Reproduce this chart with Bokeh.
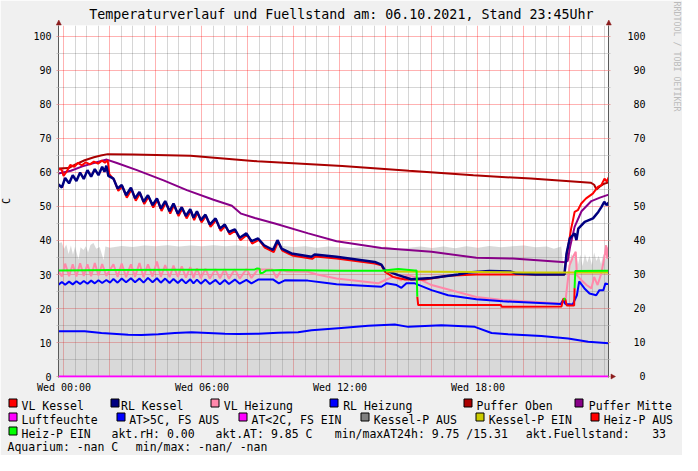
import math
from bokeh.plotting import figure
from bokeh.models import Range1d, LinearAxis, FixedTicker, Grid, GridBox
from bokeh.core.properties import value
from bokeh.embed import file_html
from bokeh.resources import INLINE

NAN = float("nan")

# ---------------- data (hours since Wed 00:00, value in C) ----------------
VL_KESSEL = [(-0.24, 61.0), (-0.10, 60.8), (-0.02, 59.0), (0.12, 60.3), (0.27, 62.2), (0.45, 61.7),
             (0.60, 62.8), (0.78, 62.1), (0.95, 63.0), (1.13, 62.4), (1.30, 63.2), (1.48, 62.6),
             (1.65, 63.5), (1.78, 62.9), (1.90, 63.6), (1.97, 59.5), (2.18, 57.8), (2.36, 54.6),
             (2.54, 55.9), (2.73, 52.6), (2.94, 55.1), (3.12, 51.7), (3.31, 53.9), (3.49, 50.7),
             (3.68, 52.9), (3.88, 49.7), (4.07, 52.0), (4.24, 48.7), (4.43, 51.2), (4.62, 47.9),
             (4.79, 50.5), (4.98, 47.2), (5.15, 49.4), (5.33, 46.5), (5.52, 48.8), (5.66, 46.0),
             (5.81, 48.2), (5.98, 45.3), (6.18, 47.2), (6.37, 44.0), (6.62, 46.1), (6.81, 42.8),
             (7.02, 44.3), (7.20, 41.8), (7.46, 42.9), (7.67, 40.1), (7.96, 41.7), (8.18, 39.1),
             (8.47, 40.2), (8.73, 37.9), (9.12, 36.6), (9.31, 39.6), (9.49, 37.0), (9.92, 35.6),
             (10.79, 34.6), (10.93, 35.3), (11.85, 34.7), (13.51, 33.2), (13.80, 32.7), (13.95, 30.8),
             (14.30, 29.3), (14.82, 28.5), (15.69, 28.5), (16.70, 29.6), (17.93, 30.0), (21.76, 30.0),
             (21.83, 34.7), (21.98, 40.6), (22.05, 43.5), (22.13, 46.0), (22.20, 48.4), (22.34, 48.9),
             (22.49, 50.9), (22.70, 52.4), (22.99, 53.8), (23.21, 55.8), (23.36, 56.3), (23.50, 58.2),
             (23.60, 57.3), (23.68, 58.6)]

RL_KESSEL = [(-0.24, 56.5), (-0.09, 55.6), (0.05, 58.4), (0.22, 56.8), (0.38, 59.2), (0.54, 57.5),
             (0.70, 60.0), (0.86, 58.1), (1.02, 60.7), (1.18, 58.8), (1.34, 61.0), (1.50, 59.2),
             (1.66, 61.7), (1.76, 60.2), (1.84, 62.0), (1.93, 59.0), (2.15, 58.2), (2.33, 55.3),
             (2.51, 56.3), (2.70, 53.3), (2.91, 55.5), (3.09, 52.4), (3.28, 54.3), (3.46, 51.4),
             (3.65, 53.3), (3.85, 50.4), (4.04, 52.4), (4.21, 49.4), (4.40, 51.6), (4.59, 48.6),
             (4.76, 50.9), (4.95, 47.9), (5.12, 49.8), (5.30, 47.2), (5.49, 49.2), (5.63, 46.7),
             (5.78, 48.6), (5.95, 46.0), (6.15, 47.6), (6.34, 44.7), (6.59, 46.5), (6.78, 43.5),
             (6.99, 44.7), (7.17, 42.5), (7.43, 43.3), (7.64, 40.8), (7.93, 42.1), (8.15, 39.8),
             (8.44, 40.6), (8.70, 38.6), (9.09, 37.2), (9.28, 40.1), (9.46, 37.6), (9.89, 36.2),
             (10.76, 35.2), (10.90, 35.9), (11.85, 35.2), (13.51, 33.7), (13.80, 32.9), (13.95, 31.3),
             (14.53, 29.8), (15.10, 28.6), (15.98, 29.0), (17.14, 30.0), (17.57, 30.6), (18.50, 31.0),
             (19.40, 30.9), (19.66, 30.3), (20.50, 30.0), (21.76, 30.0), (21.85, 36.2), (21.99, 40.6),
             (22.20, 42.1), (22.28, 40.1), (22.36, 43.5), (22.64, 45.5), (23.00, 46.5), (23.23, 48.4),
             (23.37, 49.9), (23.49, 51.4), (23.59, 50.4), (23.68, 51.2)]

VL_HEIZUNG = [(-0.24, 31.0), (-0.09, 29.4), (0.05, 33.2), (0.22, 29.5), (0.38, 33.0), (0.54, 29.4),
              (0.70, 33.3), (0.86, 29.6), (1.02, 33.0), (1.18, 29.5), (1.34, 33.4), (1.50, 29.7),
              (1.66, 33.1), (1.84, 29.6), (2.15, 33.0), (2.33, 29.3), (2.51, 33.2), (2.70, 29.2),
              (2.91, 33.0), (3.09, 29.3), (3.28, 33.4), (3.46, 29.2), (3.65, 33.0), (3.85, 29.4),
              (4.04, 33.8), (4.21, 29.3), (4.40, 32.8), (4.59, 29.2), (4.76, 32.6), (4.95, 29.3),
              (5.12, 32.4), (5.30, 29.1), (5.49, 32.2), (5.63, 29.0), (5.78, 31.8), (5.95, 28.9),
              (6.15, 31.7), (6.34, 28.8), (6.59, 31.6), (6.78, 28.9), (6.99, 31.6), (7.17, 28.8),
              (7.43, 31.5), (7.64, 28.8), (7.93, 31.6), (8.15, 29.0), (8.44, 31.6), (8.60, 31.5),
              (9.05, 31.5), (9.24, 29.0), (9.46, 31.4), (9.70, 30.9), (10.60, 30.8), (11.00, 30.0),
              (11.85, 28.8), (13.66, 27.4), (13.95, 28.3), (14.30, 29.3), (14.67, 28.3), (14.90, 29.8),
              (15.25, 29.3), (15.98, 26.9), (17.93, 23.4), (19.08, 22.5), (21.60, 21.5), (21.80, 22.0),
              (21.98, 32.7), (22.13, 35.2), (22.25, 36.7), (22.30, 29.8), (22.50, 28.3), (22.72, 26.9),
              (22.93, 25.9), (23.05, 29.3), (23.20, 26.9), (23.36, 30.3), (23.50, 35.2), (23.57, 38.6),
              (23.62, 34.7), (23.68, 38.1)]

RL_HEIZUNG = [(-0.24, 27.0), (-0.09, 27.8), (0.05, 27.0), (0.22, 27.9), (0.38, 27.1), (0.54, 28.0),
              (0.70, 27.2), (0.86, 28.1), (1.02, 27.3), (1.18, 28.2), (1.34, 27.4), (1.50, 28.3),
              (1.66, 27.5), (1.84, 28.4), (2.00, 27.6), (2.15, 28.7), (2.33, 27.6), (2.51, 28.8),
              (2.70, 27.7), (2.91, 28.9), (3.09, 27.7), (3.28, 28.8), (3.46, 27.6), (3.65, 29.0),
              (3.85, 27.7), (4.04, 28.9), (4.21, 27.6), (4.40, 28.8), (4.59, 27.5), (4.76, 28.7),
              (4.95, 27.5), (5.12, 28.6), (5.30, 27.4), (5.49, 28.6), (5.63, 27.4), (5.78, 28.5),
              (5.95, 27.3), (6.15, 28.5), (6.34, 27.2), (6.59, 28.4), (6.78, 27.1), (6.99, 28.4),
              (7.17, 27.2), (7.43, 28.5), (7.64, 27.3), (7.93, 28.4), (8.15, 27.4), (8.44, 28.5),
              (9.10, 28.5), (9.34, 27.4), (9.60, 28.3), (10.60, 28.2), (11.34, 27.6), (11.85, 27.1),
              (13.80, 26.4), (14.02, 27.4), (14.46, 26.9), (14.67, 26.1), (14.89, 27.4), (15.25, 27.4),
              (15.98, 25.4), (16.70, 23.9), (17.93, 22.7), (19.08, 22.1), (21.60, 21.3), (21.70, 22.5),
              (21.80, 21.3), (22.12, 21.2), (22.30, 23.9), (22.40, 28.0), (22.63, 25.9), (22.85, 24.4),
              (23.14, 23.9), (23.28, 25.4), (23.45, 25.4), (23.54, 27.4), (23.68, 27.1)]

PUFFER_OBEN = [(-0.24, 61.2), (0.20, 61.3), (0.50, 62.4), (0.90, 63.6), (1.30, 64.5), (1.60, 65.0),
               (1.90, 65.4), (3.00, 65.3), (5.50, 64.9), (8.40, 63.3), (12.10, 61.9), (15.00, 60.5),
               (17.80, 59.2), (20.30, 58.2), (22.90, 57.0), (23.05, 56.4), (23.15, 55.0), (23.30, 55.9),
               (23.45, 56.6), (23.68, 57.1)]

PUFFER_MITTE = [(-0.24, 59.7), (0.30, 60.5), (0.80, 61.8), (1.30, 62.8), (1.86, 63.8), (2.30, 62.8),
                (3.17, 60.7), (4.33, 57.7), (5.34, 54.8), (6.50, 52.0), (7.30, 50.2), (7.70, 47.9),
                (8.30, 46.6), (9.17, 45.0), (10.62, 42.1), (11.85, 39.8), (13.80, 37.8), (15.98, 36.7),
                (17.93, 34.9), (19.51, 34.7), (21.80, 33.6), (21.90, 34.0), (22.00, 38.0), (22.20, 44.0),
                (22.50, 48.6), (22.93, 51.6), (23.30, 52.6), (23.68, 53.5)]

AT_LINE = [(-0.24, 13.3), (0.90, 13.3), (1.63, 12.8), (2.79, 12.3), (3.37, 12.2), (4.10, 12.4),
           (4.82, 12.8), (5.54, 13.0), (7.00, 12.6), (7.57, 12.5), (8.44, 12.6), (9.31, 12.9),
           (10.18, 13.0), (10.76, 13.6), (11.92, 14.2), (13.23, 14.9), (14.38, 15.3), (14.97, 14.6),
           (16.41, 15.1), (17.86, 14.6), (18.59, 12.8), (19.31, 12.4), (20.76, 11.9), (21.92, 11.2),
           (22.79, 10.2), (23.68, 9.8)]

LUFTFEUCHTE = [(-0.24, 0.0), (23.68, 0.0)]

KESSEL_P_AUS = [(-0.24, 39.2), (-0.10, 39.5), (0.00, 37.5), (0.10, 38.8), (0.20, 36.0), (0.30, 38.5),
                (0.39, 35.8), (0.48, 38.2), (0.63, 34.4), (0.72, 38.0), (0.85, 37.2), (0.95, 38.3),
                (1.05, 36.5), (1.15, 38.7), (1.28, 39.3), (1.40, 37.6), (1.55, 38.1), (1.72, 34.3),
                (1.80, 38.2), (2.00, 37.9), (2.50, 38.4), (3.00, 38.1), (3.50, 38.5), (4.00, 38.3),
                (4.50, 38.6), (5.00, 38.2), (5.50, 38.5), (6.00, 38.3), (6.50, 38.6), (7.00, 38.3),
                (7.50, 38.5), (8.00, 38.2), (8.50, 38.4), (9.00, 38.2), (9.50, 38.4), (10.00, 38.1),
                (10.50, 38.3), (11.00, 37.9), (11.50, 38.2), (12.00, 38.0), (12.50, 37.8), (13.00, 38.1),
                (13.50, 37.7), (14.00, 38.2), (14.50, 37.5), (15.00, 37.9), (15.50, 38.2), (16.00, 37.8),
                (16.50, 38.2), (17.00, 37.7), (17.50, 38.3), (18.00, 37.9), (18.50, 38.4), (19.00, 38.0),
                (19.50, 38.3), (20.00, 38.5), (20.50, 38.0), (21.00, 38.2), (21.30, 37.6), (21.62, 38.2),
                (21.70, 33.0), (21.80, 30.5), (21.95, 31.0), (22.05, 36.0), (22.15, 34.5), (22.25, 36.8),
                (22.35, 33.0), (22.45, 35.8), (22.55, 32.5), (22.65, 36.0), (22.75, 33.5), (22.85, 35.5),
                (22.95, 32.8), (23.05, 36.5), (23.15, 34.0), (23.25, 35.5), (23.35, 33.0), (23.45, 36.0),
                (23.55, 34.5), (23.68, 36.5)]

KESSEL_P_EIN = [(14.00, 30.9), (16.00, 30.8), (18.00, 30.7), (20.00, 30.6), (22.00, 30.6), (23.68, 30.6)]

HEIZ_P_AUS = [(15.36, 23.5), (15.40, 21.0), (19.00, 21.0), (19.03, 20.5), (21.63, 20.6), (21.71, 22.9),
              (21.80, 22.6), (21.86, 20.9), (22.18, 20.9), (22.20, 26.0)]

HEIZ_P_EIN = [(-0.24, 31.2), (2.00, 31.3), (5.00, 31.4), (8.30, 31.5), (8.40, 31.8), (8.50, 31.7),
              (8.53, 30.4), (8.65, 30.5), (8.80, 31.2), (9.50, 31.3), (12.00, 31.1), (13.80, 31.1),
              (14.53, 31.6), (15.25, 31.2), (15.33, 31.2), (15.36, 23.5), (NAN, NAN),
              (21.73, 22.4), (21.79, 23.1), (NAN, NAN),
              (22.20, 26.0), (22.23, 31.0), (23.68, 31.1)]

# legend entries and text
LEGEND_ROWS = [
    [("VL Kessel", "#FF0000"), ("RL Kessel", "#000080"), ("VL Heizung", "#FF88AA"),
     ("RL Heizung", "#0000FF"), ("Puffer Oben", "#AA0000"), ("Puffer Mitte", "#880088")],
    [("Luftfeuchte", "#FF00FF"), ("AT>5C, FS AUS", "#0000FF"), ("AT<2C, FS EIN", "#FF00FF"),
     ("Kessel-P AUS", "#808080"), ("Kessel-P EIN", "#CCCC00"), ("Heiz-P AUS", "#FF0000")],
    [("Heiz-P EIN", "#00FF00")],
]
INFO_ROW3 = ["akt.rH: 0.00", "akt.AT: 9.85 C", "min/maxAT24h: 9.75 /15.31", "akt.Fuellstand:", "33"]
INFO_ROW4 = ["Aquarium: -nan C", "min/max: -nan/ -nan"]
TITLE = "Temperaturverlauf und Fuellstand am: 06.10.2021, Stand 23:45Uhr"
Y_AXIS_LABEL = "C"
WATERMARK = "RRDTOOL / TOBI OETIKER"
Y_TICKS = [0, 10, 20, 30, 40, 50, 60, 70, 80, 90, 100]
X_TICKS = [0, 6, 12, 18]
X_TICK_LABELS = ["Wed 00:00", "Wed 06:00", "Wed 12:00", "Wed 18:00"]

# ---------------- layout (pixels) ----------------
W, H = 682, 455
DX, DY = 9, 7          # shift of the reference layout into the canvas
MONO = "DejaVu Sans Mono"

def xs(s):
    return [a for a, b in s]

def ys(s):
    return [b for a, b in s]

# ---------------- main plot ----------------
p = figure(frame_width=550, frame_height=352,
           x_range=Range1d(-0.239, 23.674), y_range=Range1d(-0.294, 103.235),
           x_axis_type=None, y_axis_type=None,
           toolbar_location=None, output_backend="svg",
           min_border_left=67 - DX, min_border_right=W - (67 - DX) - 550,
           min_border_top=32 - DY, min_border_bottom=H - (32 - DY) - 352)
p.border_fill_color = "#F0F0F0"
p.background_fill_color = "#FFFFFF"
p.outline_line_color = None
p.frame_align = False

xmaj = list(range(0, 24, 2))
xmin = [i * 0.5 for i in range(0, 48) if (i * 0.5) % 2 != 0]
xg = Grid(dimension=0, ticker=FixedTicker(ticks=xmaj, minor_ticks=xmin))
ymin = [v + 5 for v in Y_TICKS[:-1]]
yg = Grid(dimension=1, ticker=FixedTicker(ticks=Y_TICKS, minor_ticks=ymin))
for g in (xg, yg):
    g.grid_line_color = "#FF0000"
    g.grid_line_alpha = 0.3
    g.minor_grid_line_color = "#000000"
    g.minor_grid_line_alpha = 0.16
    p.add_layout(g)

AXC = "#5a5a5a"

def style_axis(ax):
    ax.axis_line_color = AXC
    ax.major_label_text_font = MONO
    ax.major_label_text_font_size = "10px"
    ax.major_label_text_color = "#000000"
    ax.major_tick_in = 0
    ax.minor_tick_in = 0

left = LinearAxis(ticker=FixedTicker(ticks=Y_TICKS, minor_ticks=ymin))
style_axis(left)
left.major_tick_out = 2
left.minor_tick_out = 2
left.major_tick_line_color = "#E8A0A0"
left.minor_tick_line_color = "#C8C8C8"
left.major_label_standoff = 5
p.add_layout(left, "left")

right = LinearAxis(ticker=FixedTicker(ticks=Y_TICKS, minor_ticks=ymin))
style_axis(right)
right.major_tick_out = 2
right.minor_tick_out = 2
right.major_tick_line_color = "#E8A0A0"
right.minor_tick_line_color = "#C8C8C8"
right.major_label_standoff = 17
right.major_label_overrides = {t: ("\u00a0" * (3 - len(str(t)))) + str(t) for t in Y_TICKS}
p.add_layout(right, "right")

bottom = LinearAxis(ticker=FixedTicker(ticks=X_TICKS, minor_ticks=[]))
style_axis(bottom)
bottom.axis_line_color = "#F4A8F4"
bottom.major_tick_out = 0
bottom.minor_tick_out = 0
bottom.major_label_standoff = 4
bottom.major_label_overrides = dict(zip(X_TICKS, X_TICK_LABELS))
p.add_layout(bottom, "below")

p.varea(x=xs(KESSEL_P_AUS), y1=0, y2=ys(KESSEL_P_AUS), fill_color="#808080", fill_alpha=0.3)
p.line(xs(AT_LINE), ys(AT_LINE), line_color="#0000FF", line_width=2)
p.line(xs(VL_HEIZUNG), ys(VL_HEIZUNG), line_color="#FF88AA", line_width=2)
p.line(xs(RL_HEIZUNG), ys(RL_HEIZUNG), line_color="#0000FF", line_width=2)
p.line(xs(PUFFER_OBEN), ys(PUFFER_OBEN), line_color="#AA0000", line_width=2)
p.line(xs(PUFFER_MITTE), ys(PUFFER_MITTE), line_color="#880088", line_width=2)
p.line(xs(VL_KESSEL), ys(VL_KESSEL), line_color="#FF0000", line_width=2)
p.line(xs(RL_KESSEL), ys(RL_KESSEL), line_color="#000080", line_width=2.5)
p.line(xs(KESSEL_P_EIN), ys(KESSEL_P_EIN), line_color="#CCCC00", line_width=2)
p.line(xs(HEIZ_P_AUS), ys(HEIZ_P_AUS), line_color="#FF0000", line_width=2)
p.line(xs(HEIZ_P_EIN), ys(HEIZ_P_EIN), line_color="#00FF00", line_width=2)
p.line(xs(LUFTFEUCHTE), ys(LUFTFEUCHTE), line_color="#FF00FF", line_width=2)

# ---------------- overlay for title, legend and marks outside the frame ----------------
o = figure(width=W, height=H, x_range=Range1d(0, W), y_range=Range1d(H, 0),
           x_axis_type=None, y_axis_type=None, toolbar_location=None,
           output_backend="svg", min_border=0)
o.outline_line_color = None
o.border_fill_alpha = 0.0
o.background_fill_alpha = 0.0
o.frame_align = False

def txt(X, Y, t, size="11.5px", align="left", baseline="alphabetic", color="#000000", angle=0.0):
    o.text(x=[X - DX], y=[Y - DY], text=[t], text_font=value(MONO), text_font_size=value(size),
           text_align=value(align), text_baseline=value(baseline), text_color=color, angle=angle)

txt(349.8, 20.7, TITLE, size="13.3px", align="center")
txt(15.0, 207.5, Y_AXIS_LABEL, size="10px", align="center", baseline="middle", angle=math.pi / 2)
txt(685.0, 8.0, WATERMARK, size="8.3px", baseline="middle", color="#BBBBBB", angle=-math.pi / 2)

# axis arrows
ARC = "#8C1C1C"
tri_x = [[67.3 - 2.5, 67.3, 67.3 + 2.5], [617.3 - 2.5, 617.3, 617.3 + 2.5], [619.5, 624.0, 619.5]]
tri_y = [[31.5, 26.5, 31.5], [31.5, 26.5, 31.5], [380.5, 383.0, 385.5]]
o.patches(xs=[[v - DX for v in t] for t in tri_x], ys=[[v - DY for v in t] for t in tri_y],
          fill_color=ARC, line_color=ARC, line_width=0.5)

LEG_UP = 3.0   # legend block lifted slightly to keep it inside the canvas
SQ_X = [[16.5, 118.5, 219.0, 338.3, 471.7, 583.3],
        [16.5, 125.0, 246.7, 369.0, 484.0, 599.0],
        [16.5]]
TXT_X = [[30.0, 129.5, 232.3, 351.7, 485.0, 597.3],
         [30.0, 137.7, 260.0, 382.3, 497.3, 612.3],
         [30.0]]
BASE_Y = [415.5 - LEG_UP, 429.5 - LEG_UP, 443.3 - LEG_UP, 456.8 - LEG_UP]
SQ_TOP = [407.5 - LEG_UP, 421.5 - LEG_UP, 435.5 - LEG_UP]

sqx, sqy, sqc = [], [], []
for r, row in enumerate(LEGEND_ROWS):
    for c, (name, col) in enumerate(row):
        sqx.append(round(SQ_X[r][c] - DX) + 0.5 + 4)
        sqy.append(round(SQ_TOP[r] - DY) + 0.5 + 4)
        sqc.append(col)
        txt(TXT_X[r][c], BASE_Y[r], name)
o.rect(x=sqx, y=sqy, width=8, height=8, fill_color=sqc, line_color="#000000", line_width=1)

for X, t in zip([120.0, 224.0, 343.3, 534.3, 660.7], INFO_ROW3):
    txt(X, BASE_Y[2], t)
for X, t in zip([16.0, 144.3], INFO_ROW4):
    txt(X, BASE_Y[3], t)

root = GridBox(children=[(p, 0, 0), (o, 0, 0)])
open("out.html", "w").write(file_html(root, INLINE))
